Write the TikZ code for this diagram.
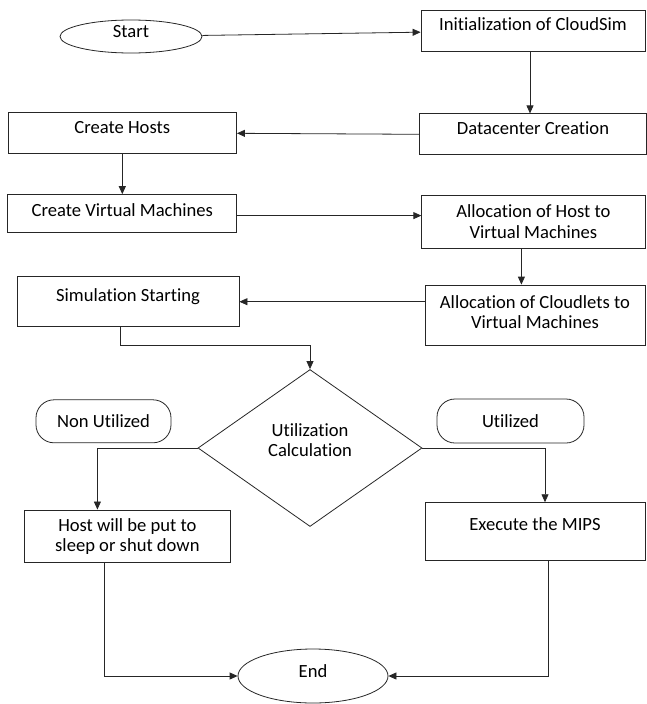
\documentclass[tikz,border=0pt]{standalone}
\usepackage{fontspec}
\setmainfont{Carlito}[Ligatures=NoCommon]
\usepackage{tikz}
\usetikzlibrary{positioning,shapes.geometric,arrows.meta}

\begin{document}
\begin{tikzpicture}[
    x=1pt, y=-1pt,
    box/.style={rectangle, draw=black!85, line width=0.8pt, fill=white, align=center, inner sep=2pt, font=\fontsize{18.6}{20.5}\selectfont},
    terminal/.style={ellipse, draw=black!85, line width=0.8pt, fill=white, inner sep=0pt, font=\fontsize{18.6}{20.5}\selectfont},
    pill/.style={rectangle, rounded corners=18pt, draw=black!85, line width=0.8pt, fill=white, font=\fontsize{18.6}{20.5}\selectfont},
    decision/.style={diamond, draw=black!85, line width=0.8pt, fill=white, align=center, inner sep=0pt, font=\fontsize{18.6}{20.5}\selectfont},
    arrow/.style={->, >={Stealth[length=8pt, width=7pt, inset=0pt]}, line width=0.8pt, draw=black!85},
    node distance=1cm
]
\useasboundingbox (0,0) rectangle (647,704);

\node[terminal, minimum width=142pt, minimum height=33pt, text depth=10pt] (start) at (131,36.5) {Start};
\node[box, minimum width=224pt, minimum height=41pt, text depth=12pt] (init) at (533,30.5) {Initialization of CloudSim};
\draw[arrow] (start) -- (init);
\node[box, below=62pt of init, minimum width=227pt, minimum height=41pt, text depth=12pt] (dc) {Datacenter Creation};
\draw[arrow] ([xshift=-3pt]init.south) -- ([xshift=-3pt]init.south |- dc.north);
\node[box, minimum width=228.5pt, minimum height=41pt, text depth=11pt] (hosts) at (122.3,133.3) {Create Hosts};
\draw[arrow] (dc.west) -- (hosts.east);
\node[box, below=40pt of hosts, minimum width=229pt, minimum height=38pt, text depth=7pt] (cvm) {Create Virtual Machines};
\draw[arrow] (hosts) -- (cvm);
\node[box, minimum width=223.3pt, minimum height=53.3pt] (allochost) at (533.4,221.7) {Allocation of Host to\\Virtual Machines};
\draw[arrow] ([yshift=-2pt]cvm.east) -- ([yshift=-2pt]cvm.east -| allochost.west);
\node[box, minimum width=220pt, minimum height=60pt, text depth=6pt] (alloccl) at (535,315) {Allocation of Cloudlets to\\Virtual Machines};
\draw[arrow] ([xshift=-12pt]allochost.south) -- ([xshift=-12pt]allochost.south |- alloccl.north);
\node[box, minimum width=222pt, minimum height=50pt, text depth=14pt] (sim) at (128,301.7) {Simulation Starting};
\draw[arrow] (sim.east -| alloccl.west) -- (sim.east);
\node[decision, minimum width=224pt, minimum height=157pt, text depth=16pt] (calc) at (310,448) {Utilization\\Calculation};
\draw[arrow] ([xshift=-7.5pt]sim.south) -- ++(0,18.3) -| (calc.north);
\node[pill, minimum width=135pt, minimum height=43pt] (nonutil) at (103.5,421.3) {Non Utilized};
\node[pill, minimum width=147pt, minimum height=44pt] (util) at (510.5,421) {Utilized};
\node[box, minimum width=205.2pt, minimum height=52.7pt] (sleep) at (127.4,536.3) {Host will be put to\\sleep or shut down};
\draw[arrow] (calc.west) -| ([xshift=-30pt]sleep.north);
\node[box, minimum width=220pt, minimum height=57.3pt, text depth=13.6pt] (mips) at (535,531.3) {Execute the MIPS};
\draw[arrow] (calc.east) -| ([xshift=10pt]mips.north);
\node[terminal, minimum width=150pt, minimum height=54pt, text depth=9pt] (end) at (313,676) {End};
\draw[arrow] ([xshift=-23.4pt]sleep.south) |- (end.west);
\draw[arrow] ([xshift=13.5pt]mips.south) |- (end.east);

\end{tikzpicture}
\end{document}
